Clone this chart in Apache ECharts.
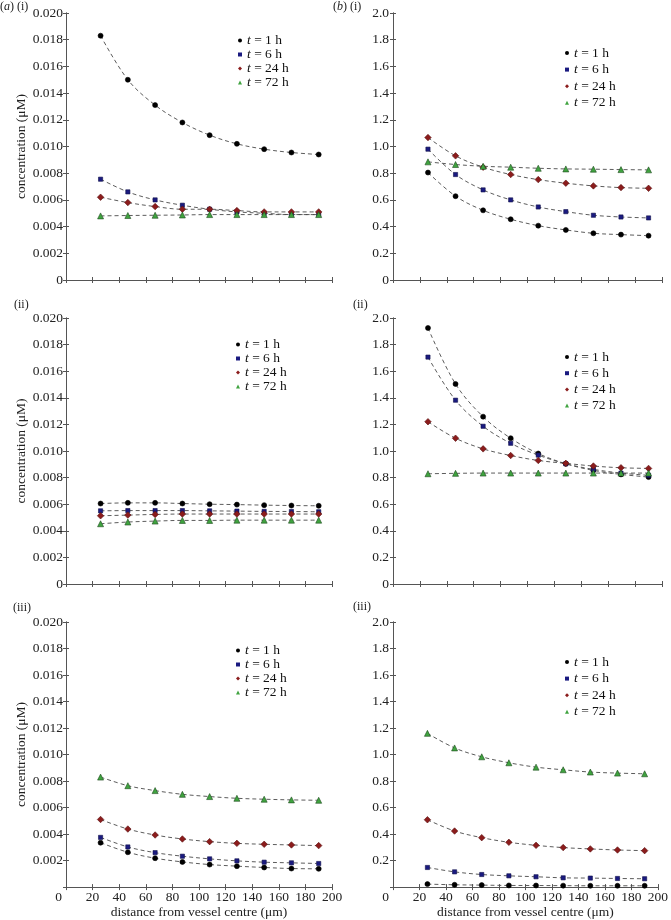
<!DOCTYPE html>
<html>
<head>
<meta charset="utf-8">
<script src="https://cdn.jsdelivr.net/npm/echarts@6/dist/echarts.min.js"></script>
<style>
html,body{margin:0;padding:0;background:#fff;}
#c{width:671px;height:920px;}
</style>
</head>
<body>
<div id="c"></div>
<script>
// ---- data ----
var distance = [26, 46.5, 67, 87.5, 108, 128.5, 149, 169.5, 190];
var seriesNames = ['t = 1 h', 't = 6 h', 't = 24 h', 't = 72 h'];
var xTicks = [0, 20, 40, 60, 80, 100, 120, 140, 160, 180, 200];
var yTicksA = [0, 0.002, 0.004, 0.006, 0.008, 0.010, 0.012, 0.014, 0.016, 0.018, 0.020];
var yTicksB = [0, 0.2, 0.4, 0.6, 0.8, 1.0, 1.2, 1.4, 1.6, 1.8, 2.0];
var panelLabels = ['({i|a}) (i)', '({i|b}) (i)', '(ii)', '(ii)', '(iii)', '(iii)'];

var a1_t1  = [0.0183, 0.0150, 0.0131, 0.0118, 0.01085, 0.0102, 0.0098, 0.00955, 0.0094];
var a1_t6  = [0.00755, 0.0066, 0.0060, 0.0056, 0.0053, 0.0051, 0.0050, 0.0049, 0.0049];
var a1_t24 = [0.0062, 0.0058, 0.0055, 0.0053, 0.0053, 0.0052, 0.0051, 0.0051, 0.0051];
var a1_t72 = [0.0048, 0.00483, 0.00485, 0.00487, 0.0049, 0.0049, 0.0049, 0.0049, 0.0049];

var b1_t1  = [0.805, 0.628, 0.522, 0.455, 0.407, 0.375, 0.35, 0.34, 0.332];
var b1_t6  = [0.98, 0.79, 0.675, 0.60, 0.547, 0.512, 0.485, 0.472, 0.465];
var b1_t24 = [1.067, 0.93, 0.845, 0.79, 0.752, 0.725, 0.705, 0.692, 0.687];
var b1_t72 = [0.885, 0.865, 0.852, 0.845, 0.837, 0.832, 0.83, 0.827, 0.825];

var a2_t1  = [0.00605, 0.0061, 0.0061, 0.00605, 0.0060, 0.00597, 0.00593, 0.0059, 0.00588];
var a2_t6  = [0.0055, 0.00552, 0.00552, 0.00552, 0.0055, 0.00548, 0.00546, 0.00545, 0.00543];
var a2_t24 = [0.00513, 0.00518, 0.00523, 0.00526, 0.00526, 0.00526, 0.00526, 0.00526, 0.00526];
var a2_t72 = [0.00453, 0.00466, 0.00473, 0.00478, 0.00478, 0.0048, 0.0048, 0.0048, 0.0048];

var b2_t1  = [1.925, 1.504, 1.258, 1.096, 0.981, 0.904, 0.854, 0.824, 0.804];
var b2_t6  = [1.706, 1.382, 1.186, 1.058, 0.969, 0.904, 0.862, 0.834, 0.817];
var b2_t24 = [1.22, 1.096, 1.016, 0.966, 0.929, 0.907, 0.887, 0.874, 0.869];
var b2_t72 = [0.829, 0.832, 0.834, 0.834, 0.834, 0.834, 0.834, 0.834, 0.834];

var a3_t1  = [0.00335, 0.00263, 0.00218, 0.0019, 0.0017, 0.00158, 0.00148, 0.0014, 0.00138];
var a3_t6  = [0.00375, 0.00303, 0.0026, 0.00233, 0.00213, 0.00198, 0.00188, 0.00183, 0.00178];
var a3_t24 = [0.0051, 0.00438, 0.00393, 0.00363, 0.00343, 0.0033, 0.00323, 0.00318, 0.00313];
var a3_t72 = [0.0083, 0.00765, 0.00728, 0.007, 0.00683, 0.0067, 0.00663, 0.00658, 0.00655];

var b3_t1  = [0.0225, 0.0175, 0.015, 0.0125, 0.012, 0.011, 0.01, 0.01, 0.01];
var b3_t6  = [0.148, 0.115, 0.095, 0.085, 0.078, 0.07, 0.068, 0.065, 0.063];
var b3_t24 = [0.508, 0.423, 0.373, 0.338, 0.315, 0.298, 0.288, 0.28, 0.275];
var b3_t72 = [1.16, 1.05, 0.983, 0.938, 0.905, 0.885, 0.868, 0.86, 0.855];

var panels = [
  [a1_t1, a1_t6, a1_t24, a1_t72],
  [b1_t1, b1_t6, b1_t24, b1_t72],
  [a2_t1, a2_t6, a2_t24, a2_t72],
  [b2_t1, b2_t6, b2_t24, b2_t72],
  [a3_t1, a3_t6, a3_t24, a3_t72],
  [b3_t1, b3_t6, b3_t24, b3_t72]
];

// ---- styling / layout ----
var FONT = '"Liberation Serif", "Times New Roman", serif';
var grids = [
  {left: 66, top: 13, width: 266, height: 267},
  {left: 393, top: 13, width: 269, height: 267},
  {left: 66, top: 318, width: 266, height: 266},
  {left: 393, top: 318, width: 269, height: 266},
  {left: 66, top: 622, width: 266, height: 267},
  {left: 393, top: 622, width: 269, height: 267}
];
var legendPos = [
  {left: 238, top: 33.5, gap: 0},
  {left: 565, top: 46, gap: 2.6},
  {left: 236, top: 337.5, gap: 0},
  {left: 565, top: 350, gap: 2.2},
  {left: 236, top: 643.5, gap: 0},
  {left: 565, top: 655, gap: 2.6}
];
var titlePos = [
  {left: 0, top: 0}, {left: 333, top: 0},
  {left: 14, top: 298}, {left: 353, top: 298},
  {left: 13, top: 601}, {left: 353, top: 600}
];
var symbols = ['circle', 'rect', 'diamond', 'triangle'];
var symSizes = [5, 4.2, 6.5, 6];
var colors = ['#000000', '#1a1a80', '#8b1c1c', '#3fa33f'];
var borders = ['#000000', '#10104a', '#5a1010', '#1f4a1f'];
var AX = '#555';

var option = {
  animation: false,
  backgroundColor: '#fff',
  textStyle: {fontFamily: FONT},
  grid: [], xAxis: [], yAxis: [], series: [], legend: [], title: []
};

for (var p = 0; p < 6; p++) {
  var isB = p % 2 === 1;
  var isBottom = p >= 4;
  option.grid.push(Object.assign({containLabel: false}, grids[p]));
  var yt = isB ? yTicksB : yTicksA;
  var ymin = yt[0], ymax = yt[yt.length - 1], yint = yt[1] - yt[0];

  option.xAxis.push({
    type: 'value', gridIndex: p, position: 'bottom', min: xTicks[0], max: xTicks[xTicks.length - 1], interval: xTicks[1] - xTicks[0],
    name: isBottom ? 'distance from vessel centre (\u03bcm)' : '', nameLocation: 'middle', nameGap: 17,
    nameTextStyle: {fontFamily: FONT, fontSize: 13.5, color: '#222'},
    axisLine: {show: true, lineStyle: {color: AX, width: 1}},
    axisTick: {show: true, inside: true, length: 3, lineStyle: {color: AX}},
    splitLine: {show: false},
    axisLabel: {
      show: isBottom, margin: 3, fontFamily: FONT, fontSize: 13.5, color: '#222',
      formatter: function (v) { return v === 0 ? '{z|0}' : String(v); },
      rich: {z: {fontFamily: FONT, fontSize: 13.5, color: '#222', padding: [0, 15, 0, 0]}}
    }
  });
  option.xAxis.push({
    type: 'value', gridIndex: p, position: 'top', min: xTicks[0], max: xTicks[xTicks.length - 1], interval: xTicks[1] - xTicks[0],
    axisLine: {show: true, lineStyle: {color: AX, width: 1}},
    axisTick: {show: true, inside: true, length: 3, lineStyle: {color: AX}},
    axisLabel: {show: false}, splitLine: {show: false}
  });
  option.yAxis.push({
    type: 'value', gridIndex: p, position: 'left', min: ymin, max: ymax, interval: yint,
    name: isB ? '' : 'concentration (\u03bcM)', nameLocation: 'middle', nameGap: 34, nameRotate: 90,
    nameTextStyle: {fontFamily: FONT, fontSize: 13.5, color: '#222'},
    axisLine: {show: true, lineStyle: {color: AX, width: 1}},
    axisTick: {show: true, inside: true, length: 3, lineStyle: {color: AX}},
    splitLine: {show: false},
    axisLabel: {
      margin: isB ? 4 : 3, fontFamily: FONT, fontSize: 13.5, color: '#222',
      showMinLabel: !isBottom,
      formatter: (function (b) { return function (v) { return v === 0 ? '0' : v.toFixed(b ? 1 : 3); }; })(isB)
    }
  });
  option.yAxis.push({
    type: 'value', gridIndex: p, position: 'right', min: ymin, max: ymax, interval: yint,
    axisLine: {show: true, lineStyle: {color: AX, width: 1}},
    axisTick: {show: true, inside: true, length: 3, lineStyle: {color: AX}},
    axisLabel: {show: false}, splitLine: {show: false}
  });

  for (var s = 0; s < 4; s++) {
    var vals = panels[p][s];
    option.series.push({
      type: 'line', name: seriesNames[s],
      xAxisIndex: p * 2, yAxisIndex: p * 2,
      data: distance.map(function (d, i) { return [d, vals[i]]; }),
      smooth: 0.35,
      symbol: symbols[s], symbolSize: symSizes[s],
      itemStyle: {color: colors[s], borderColor: borders[s], borderWidth: 0.6},
      lineStyle: {color: '#4a4a4a', width: 0.9, type: [4, 3]},
      emphasis: {disabled: true},
      z: 2 + s
    });
  }

  option.legend.push({
    orient: 'vertical', left: legendPos[p].left, top: legendPos[p].top,
    padding: 0, itemGap: legendPos[p].gap, itemWidth: 4, itemHeight: 4,
    selectedMode: false,
    itemStyle: {borderWidth: 0},
    data: seriesNames.map(function (n, i) { return {name: n, icon: symbols[i]}; }),
    formatter: function (n) { return '{i|t}' + n.slice(1); },
    textStyle: {
      fontFamily: FONT, fontSize: 13.5, color: '#111', lineHeight: 13,
      rich: {i: {fontFamily: FONT, fontSize: 13.5, fontStyle: 'italic', color: '#111'}}
    }
  });

  option.title.push({
    text: panelLabels[p], left: titlePos[p].left, top: titlePos[p].top, padding: 0,
    textStyle: {
      fontFamily: FONT, fontSize: 12, fontWeight: 'normal', color: '#222', lineHeight: 14,
      rich: {i: {fontFamily: FONT, fontSize: 12, fontStyle: 'italic', color: '#222'}}
    }
  });
}

var chart = echarts.init(document.getElementById('c'), null, {renderer: 'canvas'});
chart.setOption(option);
</script>
</body>
</html>
